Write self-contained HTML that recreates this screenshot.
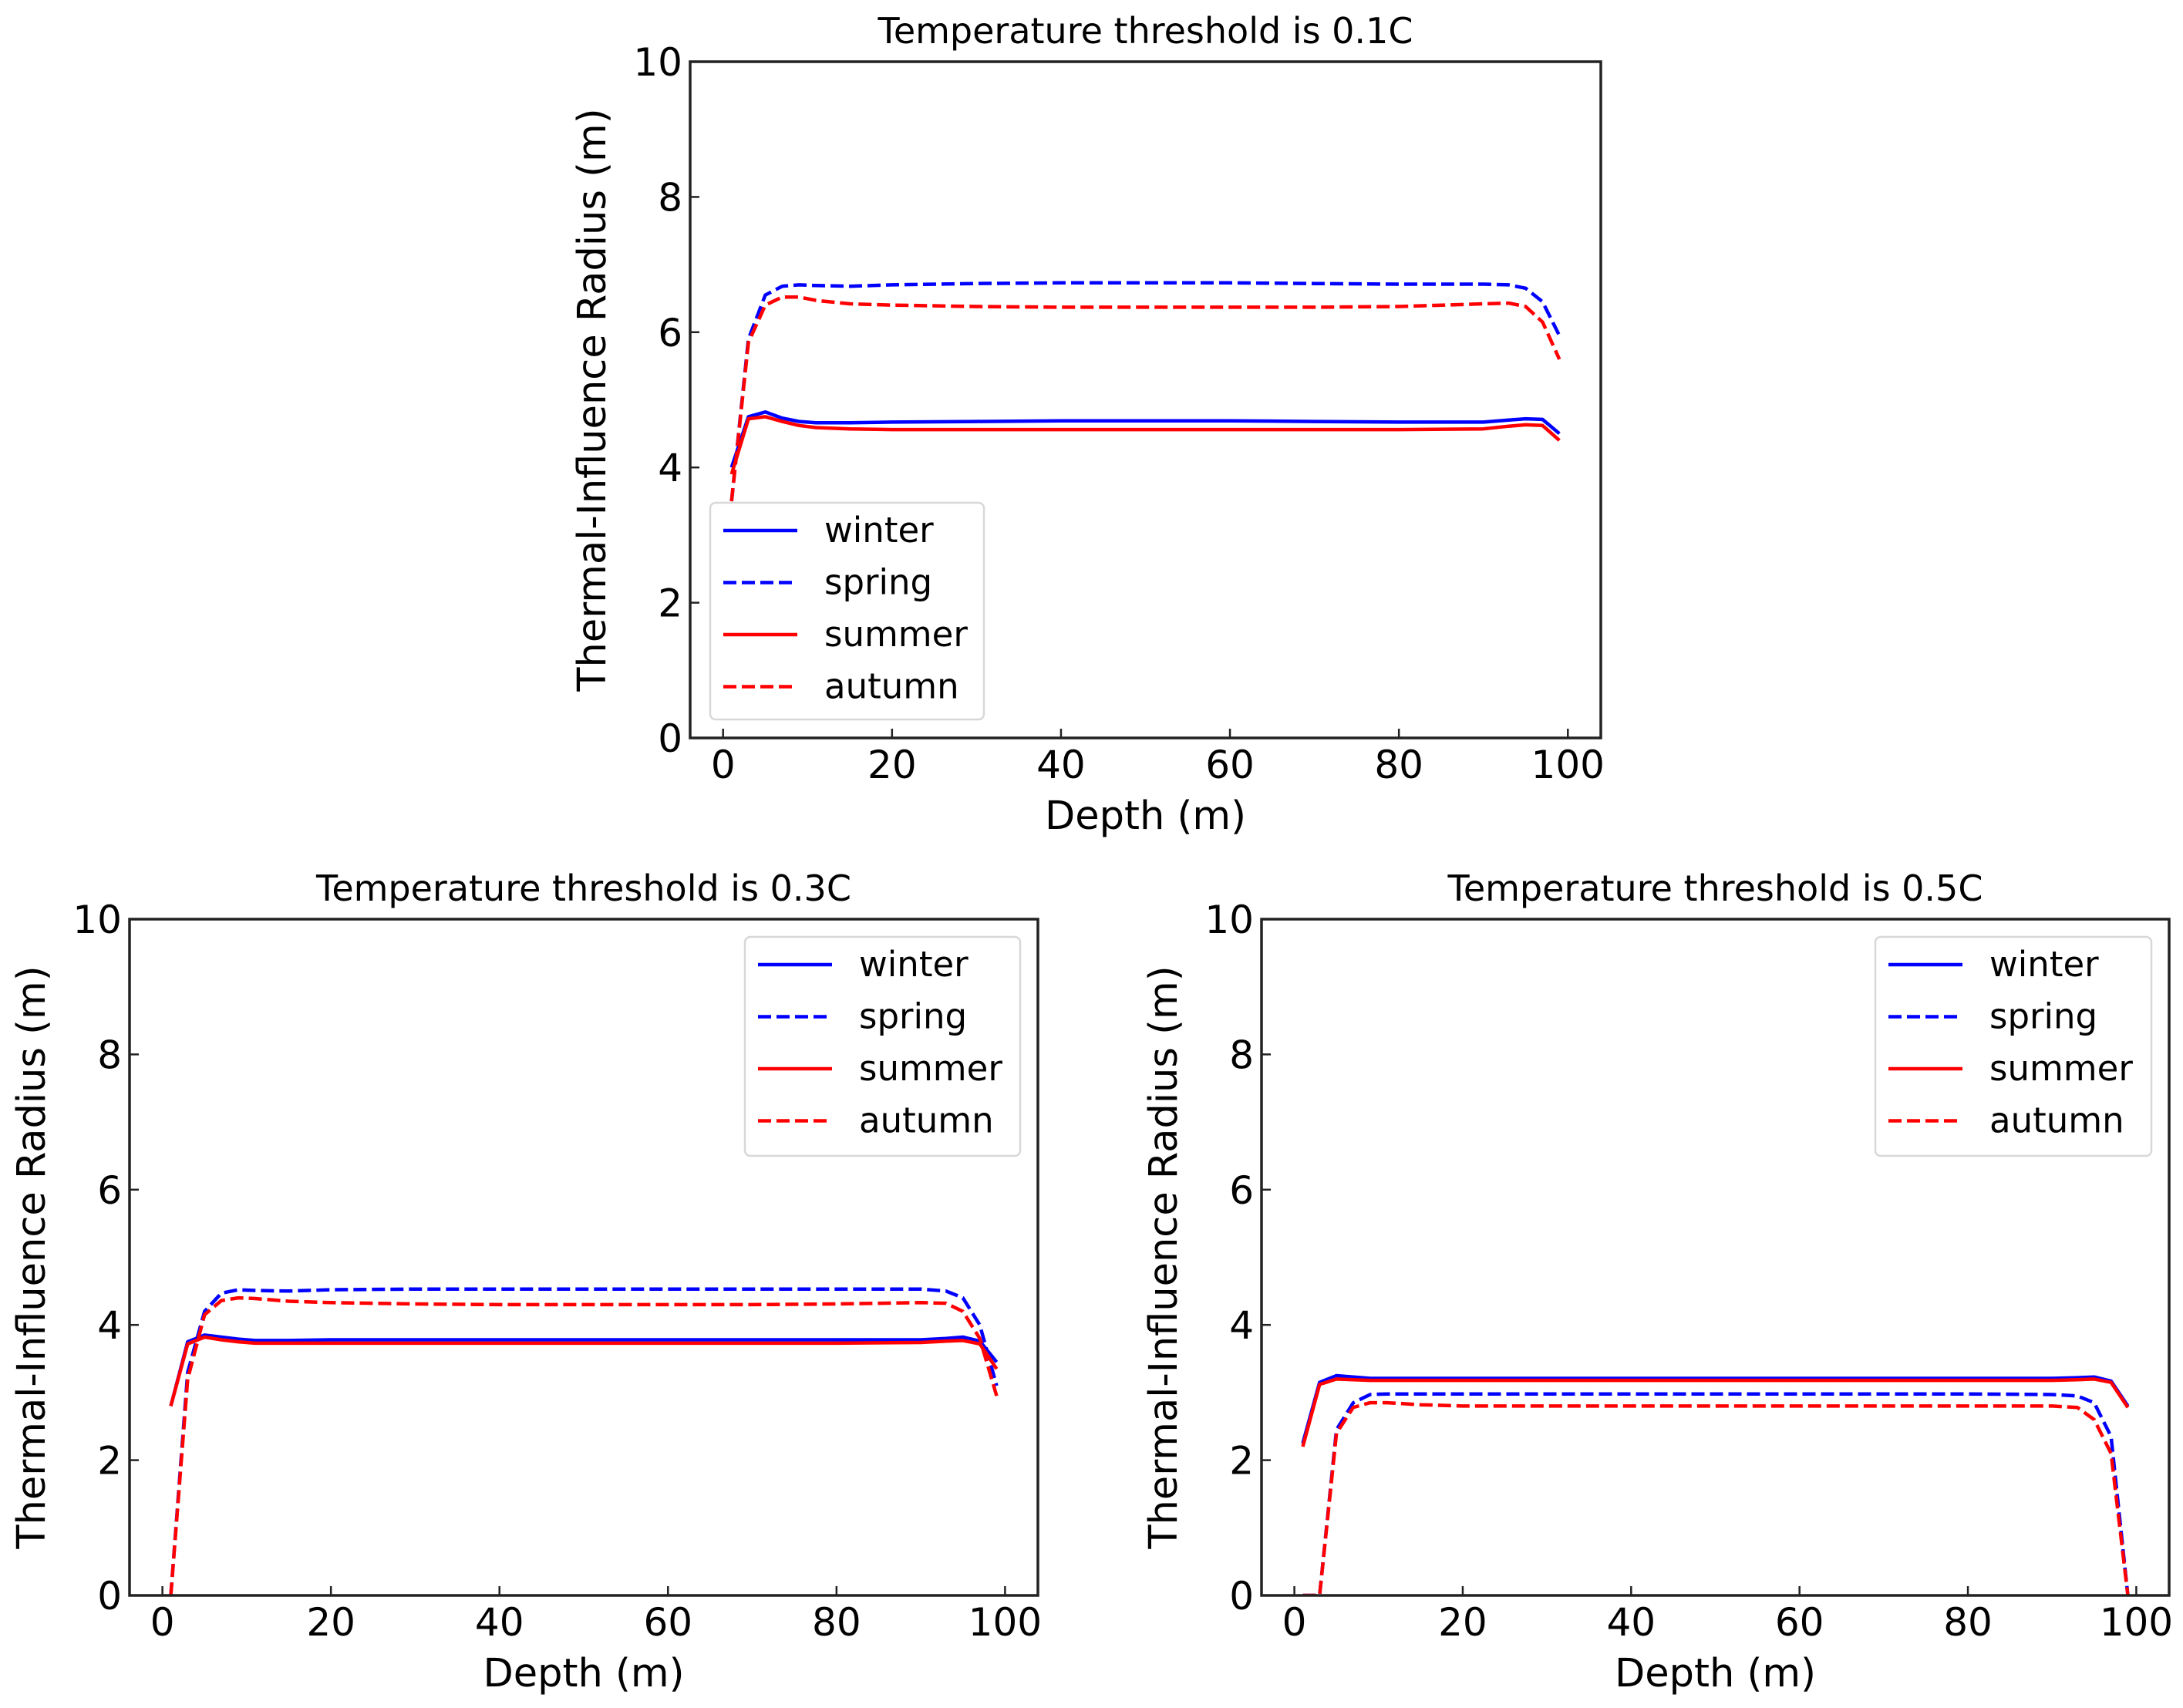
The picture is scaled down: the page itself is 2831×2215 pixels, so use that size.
<!DOCTYPE html>
<html><head><meta charset="utf-8"><style>
html,body{margin:0;padding:0;background:#fff;}
svg{display:block;font-family:"DejaVu Sans","Liberation Sans",sans-serif;}
</style></head><body>
<svg id="fig" width="2831" height="2215" viewBox="0 0 2831 2215" xmlns="http://www.w3.org/2000/svg"></svg>
<script>
const depths = [1,3,5,7,9,11,15,20,30,40,50,60,70,80,90,93,95,97,99];
const xTicks = [0,20,40,60,80,100];
const yTicks = [0,2,4,6,8,10];
const seriesNames = ["winter","spring","summer","autumn"];
const t01Winter = [4.0,4.75,4.82,4.73,4.68,4.66,4.66,4.67,4.68,4.69,4.69,4.69,4.68,4.67,4.67,4.70,4.72,4.71,4.5];
const t01Spring = [3.5,5.9,6.55,6.68,6.7,6.69,6.68,6.7,6.72,6.73,6.73,6.73,6.72,6.71,6.71,6.7,6.65,6.45,5.95];
const t01Summer = [3.9,4.72,4.75,4.68,4.62,4.59,4.57,4.56,4.56,4.56,4.56,4.56,4.56,4.56,4.57,4.61,4.63,4.62,4.4];
const t01Autumn = [3.5,5.85,6.4,6.52,6.52,6.47,6.42,6.4,6.38,6.37,6.37,6.37,6.37,6.38,6.42,6.43,6.38,6.15,5.6];
const t03Winter = [2.8,3.75,3.85,3.82,3.79,3.77,3.77,3.78,3.78,3.78,3.78,3.78,3.78,3.78,3.78,3.80,3.82,3.76,3.45];
const t03Spring = [0,3.3,4.2,4.47,4.52,4.51,4.5,4.52,4.53,4.53,4.53,4.53,4.53,4.53,4.53,4.5,4.4,4.0,3.1];
const t03Summer = [2.8,3.72,3.82,3.78,3.75,3.73,3.73,3.73,3.73,3.73,3.73,3.73,3.73,3.73,3.74,3.76,3.77,3.72,3.35];
const t03Autumn = [0,3.2,4.15,4.36,4.4,4.39,4.35,4.33,4.31,4.3,4.3,4.3,4.3,4.31,4.33,4.32,4.2,3.8,2.95];
const t05Winter = [2.25,3.15,3.25,3.23,3.21,3.21,3.21,3.21,3.21,3.21,3.21,3.21,3.21,3.21,3.21,3.22,3.23,3.17,2.8];
const t05Spring = [0,0,2.45,2.85,2.97,2.98,2.98,2.98,2.98,2.98,2.98,2.98,2.98,2.98,2.97,2.95,2.85,2.35,0];
const t05Summer = [2.2,3.12,3.2,3.19,3.18,3.18,3.18,3.18,3.18,3.18,3.18,3.18,3.18,3.18,3.18,3.19,3.2,3.15,2.78];
const t05Autumn = [0,0,2.4,2.78,2.85,2.85,2.82,2.8,2.8,2.8,2.8,2.8,2.8,2.8,2.8,2.78,2.6,2.1,0];

const NS="http://www.w3.org/2000/svg";
const svg=document.getElementById('fig');
function mk(tag,attrs,parent){const e=document.createElementNS(NS,tag);for(const k in attrs)e.setAttribute(k,attrs[k]);(parent||svg).appendChild(e);return e;}
const styles={winter:{c:"#0000ff",d:null},spring:{c:"#0000ff",d:"17,7"},summer:{c:"#ff0000",d:null},autumn:{c:"#ff0000",d:"17,7"}};

function panel(id,box,title,data,legend,ylabX){
  const g=mk('g',{});
  
  
  const xmin=-3.9,xmax=103.9;
  const X=v=>box.l+(v-xmin)/(xmax-xmin)*(box.r-box.l);
  const Y=v=>box.b-(v/10)*(box.b-box.t);
  const clip=mk('clipPath',{id:id+'-clip'},g);
  mk('rect',{x:box.l,y:box.t-5,width:box.r-box.l,height:box.b-box.t+5},clip);
  const t=mk('text',{x:(box.l+box.r)/2,y:box.t-24,'font-size':46,'text-anchor':'middle',fill:'#000'},g);
  t.textContent=title;
  
  
  const lines=mk('g',{'clip-path':'url(#'+id+'-clip)'},g);
  seriesNames.forEach((n,i)=>{
    const pts=depths.map((d,j)=>X(d).toFixed(1)+','+Y(data[i][j]).toFixed(1)).join(' ');
    const a={points:pts,fill:'none',stroke:styles[n].c,'stroke-width':4.5,'stroke-linejoin':'round'};
    if(styles[n].d)a['stroke-dasharray']=styles[n].d;
    const pl=mk('polyline',a,lines);
    
    
  });
  const fr=mk('rect',{x:box.l,y:box.t,width:box.r-box.l,height:box.b-box.t,fill:'none',stroke:'#222','stroke-width':3.5},g);
  
  
  xTicks.forEach(v=>{
    mk('line',{x1:X(v),x2:X(v),y1:box.b,y2:box.b-12,stroke:'#222','stroke-width':2.5},g);
    const tl=mk('text',{x:X(v),y:box.b+52,'font-size':50,'text-anchor':'middle',fill:'#000'},g);
    tl.textContent=v;
    
    
  });
  yTicks.forEach(v=>{
    mk('line',{x1:box.l,x2:box.l+12,y1:Y(v),y2:Y(v),stroke:'#222','stroke-width':2.5},g);
    const tl=mk('text',{x:box.l-10,y:Y(v)+18,'font-size':50,'text-anchor':'end',fill:'#000'},g);
    tl.textContent=v;
    
    
  });
  const xl=mk('text',{x:(box.l+box.r)/2,y:box.b+118,'font-size':51,'text-anchor':'middle',fill:'#000'},g);
  xl.textContent='Depth (m)';
  
  
  const cy=(box.t+box.b)/2;
  const yl=mk('text',{x:ylabX,y:cy,'font-size':51,'text-anchor':'middle',fill:'#000',transform:'rotate(-90 '+ylabX+' '+cy+')'},g);
  yl.textContent='Thermal-Influence Radius (m)';
  
  
  const lg=mk('g',{},g);
  
  
  mk('rect',{x:legend.x,y:legend.y,width:legend.w,height:legend.h,rx:7,fill:'#fff','fill-opacity':0.85,stroke:'#d8d8d8','stroke-width':2.5},lg);
  seriesNames.forEach((n,i)=>{
    const yy=legend.y+36+i*67.5;
    const a={x1:legend.x+17,x2:legend.x+113,y1:yy,y2:yy,stroke:styles[n].c,'stroke-width':4.5};
    if(styles[n].d)a['stroke-dasharray']=styles[n].d;
    mk('line',a,lg);
    const tx=mk('text',{x:legend.x+148,y:yy+15,'font-size':45,fill:'#000'},lg);
    tx.textContent=n;
    
    
  });
}
panel('panel-0-1C',{l:895,r:2076,t:80,b:957},'Temperature threshold is 0.1C',[t01Winter,t01Spring,t01Summer,t01Autumn],{x:921,y:652,w:355,h:281},785);
panel('panel-0-3C',{l:168,r:1346,t:1192,b:2069},'Temperature threshold is 0.3C',[t03Winter,t03Spring,t03Summer,t03Autumn],{x:966,y:1215,w:357,h:284},58);
panel('panel-0-5C',{l:1636,r:2813,t:1192,b:2069},'Temperature threshold is 0.5C',[t05Winter,t05Spring,t05Summer,t05Autumn],{x:2432,y:1215,w:358,h:284},1526);
</script>
</body></html>
